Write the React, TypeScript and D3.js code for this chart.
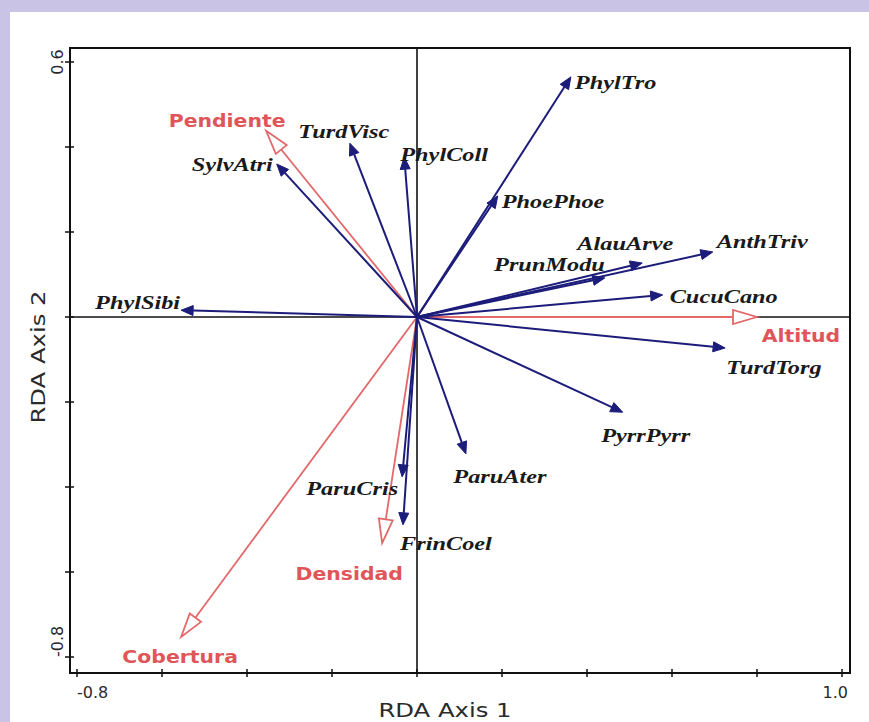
import * as React from "react";
import * as d3 from "d3";

// species scores (arrow tips)
const species = [
  "PhylTro", "PhoePhoe", "PhylColl", "TurdVisc", "SylvAtri", "PhylSibi", "AlauArve", "AnthTriv",
  "PrunModu", "CucuCano", "TurdTorg", "PyrrPyrr", "ParuAter", "ParuCris", "FrinCoel",
];
const speciesAxis1 = [0.362, 0.19, -0.03, -0.158, -0.33, -0.555, 0.53, 0.696, 0.442, 0.578, 0.725, 0.484, 0.115, -0.035, -0.033];
const speciesAxis2 = [0.565, 0.285, 0.376, 0.409, 0.36, 0.016, 0.127, 0.153, 0.092, 0.052, -0.073, -0.224, -0.322, -0.376, -0.489];

// environmental variables
const envVars = ["Pendiente", "Altitud", "Densidad", "Cobertura"];
const envAxis1 = [-0.355, 0.8, -0.082, -0.555];
const envAxis2 = [0.438, 0, -0.532, -0.753];

const xTicks = [-0.8, -0.6, -0.4, -0.2, 0, 0.2, 0.4, 0.6, 0.8, 1.0];
const yTicks = [-0.8, -0.6, -0.4, -0.2, 0, 0.2, 0.4, 0.6];
const xTickLabels = ["-0.8", "1.0"];
const yTickLabels = ["-0.8", "0.6"];

// label placement relative to arrow tip (px)
const labelPos: Record<string, [number, number, string]> = {
  PhylTro: [4, 6, "start"],
  PhoePhoe: [4, 6, "start"],
  PhylColl: [-4, -2, "start"],
  TurdVisc: [-6, -11, "middle"],
  SylvAtri: [-4, 1, "end"],
  PhylSibi: [-1, -7, "end"],
  AlauArve: [-17, -19, "middle"],
  AnthTriv: [4, -10, "start"],
  PrunModu: [0, -13, "end"],
  CucuCano: [7, 2, "start"],
  TurdTorg: [1, 20, "start"],
  PyrrPyrr: [23, 24, "middle"],
  ParuAter: [34, 23, "middle"],
  ParuCris: [-4, 12, "end"],
  FrinCoel: [-3, 19, "start"],
  Pendiente: [-39, -10, "middle"],
  Altitud: [44, 19, "middle"],
  Densidad: [-33, 31, "middle"],
  Cobertura: [-1, 20, "middle"],
};

const W = 869;
const H = 722;
const box = { left: 70, right: 850, top: 48, bottom: 673 };
const blue = "#1c1c7a";
const red = "#e2686a";

function head(x0: number, y0: number, x1: number, y1: number, len: number, half: number) {
  const a = Math.atan2(y1 - y0, x1 - x0);
  const bx = x1 - len * Math.cos(a);
  const by = y1 - len * Math.sin(a);
  const px = -Math.sin(a) * half;
  const py = Math.cos(a) * half;
  return {
    bx,
    by,
    pts: `${x1},${y1} ${bx + px},${by + py} ${bx - px},${by - py}`,
  };
}

function Label(props: { x: number; y: number; text: string; anchor: string; sx: number; rot?: number; fill: string; size: number; weight?: string; italic?: boolean; family: string }) {
  const { x, y, text, anchor, sx, rot, fill, size, weight, italic, family } = props;
  return (
    <g transform={`translate(${x},${y}) rotate(${rot || 0}) scale(${sx},1)`}>
      <text
        textAnchor={anchor as any}
        dominantBaseline="central"
        fill={fill}
        fontSize={size}
        fontWeight={weight || "normal"}
        fontStyle={italic ? "italic" : "normal"}
        fontFamily={family}
      >
        {text}
      </text>
    </g>
  );
}

const App: React.FunctionComponent = () => {
  const x = d3.scaleLinear().domain([-0.8, 1.0]).range([77, 842]);
  const y = d3.scaleLinear().domain([-0.8, 0.6]).range([657, 62]);
  const ox = x(0);
  const oy = y(0);

  return (
    <svg width={W} height={H} style={{ position: "absolute", left: 0, top: 0 }}>
      <rect x={0} y={0} width={W} height={H} fill="#c9c3e6" />
      <rect x={10} y={12} width={W - 10} height={H - 12} fill="#ffffff" />

      {/* zero lines */}
      <line x1={ox} x2={ox} y1={box.top} y2={box.bottom} stroke="#111" strokeWidth={1.6} />
      <line x1={box.left} x2={box.right} y1={oy} y2={oy} stroke="#111" strokeWidth={1.6} />

      {/* frame */}
      <rect x={box.left} y={box.top} width={box.right - box.left} height={box.bottom - box.top} fill="none" stroke="#111" strokeWidth={2} />

      {xTicks.map((t) => (
        <line key={"xt" + t} x1={x(t)} x2={x(t)} y1={box.bottom - 4} y2={box.bottom + 4} stroke="#111" strokeWidth={1.5} />
      ))}
      {yTicks.map((t) => (
        <line key={"yt" + t} x1={box.left - 5} x2={box.left + 4} y1={y(t)} y2={y(t)} stroke="#111" strokeWidth={1.5} />
      ))}

      <Label x={x(+xTickLabels[0])} y={692} text={xTickLabels[0]} anchor="start" sx={1} size={16} fill="#2a2a2a" family="DejaVu Sans" />
      <Label x={x(+xTickLabels[1]) + 6} y={692} text={xTickLabels[1]} anchor="end" sx={1} size={16} fill="#2a2a2a" family="DejaVu Sans" />
      <Label x={57} y={y(+yTickLabels[0])} text={yTickLabels[0]} anchor="start" sx={1} rot={-90} size={16} fill="#2a2a2a" family="DejaVu Sans" />
      <Label x={57} y={y(+yTickLabels[1])} text={yTickLabels[1]} anchor="middle" sx={1} rot={-90} size={16} fill="#2a2a2a" family="DejaVu Sans" />

      <Label x={445} y={710} text="RDA Axis 1" anchor="middle" sx={1.28} size={19} fill="#2a2a2a" family="DejaVu Sans" />
      <Label x={38} y={357} text="RDA Axis 2" anchor="middle" sx={1.28} rot={-90} size={19} fill="#2a2a2a" family="DejaVu Sans" />

      {/* environmental arrows */}
      {envVars.map((name, i) => {
        const tx = x(envAxis1[i]);
        const ty = y(envAxis2[i]);
        const h = head(ox, oy, tx, ty, 24, 7);
        return (
          <g key={name}>
            <line x1={ox} y1={oy} x2={h.bx} y2={h.by} stroke={red} strokeWidth={1.8} />
            <polygon points={h.pts} fill="#fff" stroke={red} strokeWidth={1.8} />
          </g>
        );
      })}

      {/* species arrows */}
      {species.map((name, i) => {
        const tx = x(speciesAxis1[i]);
        const ty = y(speciesAxis2[i]);
        const h = head(ox, oy, tx, ty, 12, 5);
        return (
          <g key={name}>
            <line x1={ox} y1={oy} x2={h.bx} y2={h.by} stroke={blue} strokeWidth={2} />
            <polygon points={h.pts} fill={blue} stroke={blue} strokeWidth={1} />
          </g>
        );
      })}

      {species.map((name, i) => {
        const [dx, dy, anchor] = labelPos[name];
        return (
          <Label key={"l" + name} x={x(speciesAxis1[i]) + dx} y={y(speciesAxis2[i]) + dy} text={name} anchor={anchor}
            sx={1.28} size={19} fill="#1a1a1a" weight="bold" italic family="Liberation Serif" />
        );
      })}
      {envVars.map((name, i) => {
        const [dx, dy, anchor] = labelPos[name];
        return (
          <Label key={"l" + name} x={x(envAxis1[i]) + dx} y={y(envAxis2[i]) + dy} text={name} anchor={anchor}
            sx={1.2} size={17} fill="#e05658" weight="bold" family="DejaVu Sans" />
        );
      })}
    </svg>
  );
};

export default App;
